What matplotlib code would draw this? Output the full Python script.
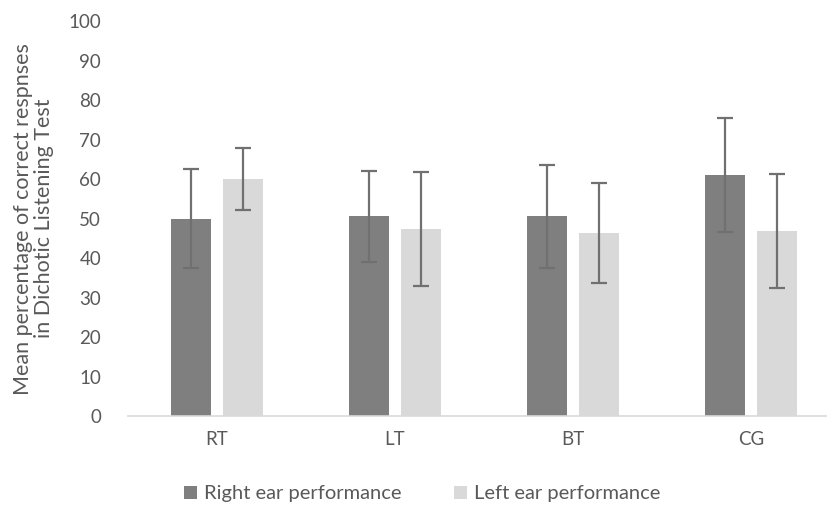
import numpy as np
import matplotlib.pyplot as plt

groups = ["RT", "LT", "BT", "CG"]
right_ear = [50.0, 50.6, 50.6, 61.1]
right_err = [12.5, 11.5, 13.1, 14.5]
left_ear = [60.0, 47.3, 46.4, 46.9]
left_err = [7.9, 14.4, 12.6, 14.5]

plt.rcParams['font.family'] = ['Lato', 'DejaVu Sans']
text_col = "#595959"

fig = plt.figure(figsize=(8.28, 5.05), dpi=100)
ax = fig.add_axes([0.154, 0.176, 0.8605, 0.782])

x = np.arange(len(groups))
w = 0.225
off = 0.146
err_kw = dict(ecolor="#707070", elinewidth=1.6, capsize=5.5, capthick=1.6)
ax.bar(x - off, right_ear, w, yerr=right_err, color="#7f7f7f",
       label="Right ear performance", error_kw=err_kw)
ax.bar(x + off, left_ear, w, yerr=left_err, color="#d9d9d9",
       label="Left ear performance", error_kw=err_kw)

ax.set_xlim(-0.5, 3.5)
ax.set_ylim(0, 100)
ax.set_yticks(range(0, 101, 10))
ax.set_xticks(x)
ax.set_xticklabels(groups)
for s in ["top", "right", "left"]:
    ax.spines[s].set_visible(False)
ax.spines["bottom"].set_color("#d9d9d9")
ax.spines["bottom"].set_linewidth(1.2)
ax.tick_params(axis="both", length=0, labelsize=13.5, colors=text_col)
ax.tick_params(axis="y", pad=19)
ax.tick_params(axis="x", pad=11)

ax.set_ylabel("Mean percentage of correct respnses\nin Dichotic Listening Test",
              fontsize=15.5, color=text_col, labelpad=10, linespacing=1.1)

fig.legend(loc="center", bbox_to_anchor=(0.51, 0.022), ncol=2, frameon=False,
           fontsize=14.5, labelcolor=text_col, handlelength=0.65, handleheight=0.65,
           handletextpad=0.35, columnspacing=2.6)

fig.savefig("out.png", dpi=100)
